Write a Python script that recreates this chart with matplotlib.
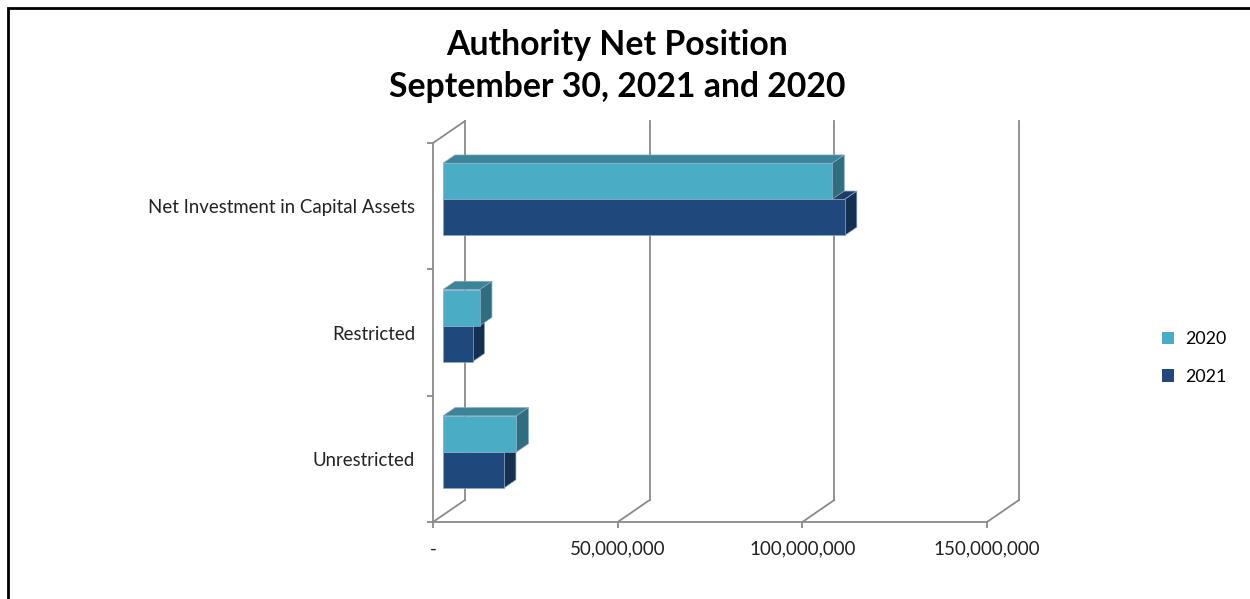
import matplotlib.pyplot as plt
from matplotlib.patches import Polygon, Rectangle, Patch
from matplotlib.ticker import FuncFormatter

plt.rcParams['font.family'] = ['Lato', 'DejaVu Sans']

# data
categories = ['Net Investment in Capital Assets', 'Restricted', 'Unrestricted']
years = ['2020', '2021']
values_2020 = [105400000, 10000000, 19900000]
values_2021 = [108800000, 8000000, 16500000]
x_ticks = [0, 50000000, 100000000, 150000000]

# colours: front, top, side
col_2020 = ('#4BACC6', '#3A8598', '#2F6E7E')
col_2021 = ('#1F497D', '#1A3D69', '#152F51')
grid_col = '#8A8A8A'

W, H = 1250, 599
fig = plt.figure(figsize=(W / 100, H / 100), dpi=100)

# front plane of the fake-3d box, in pixels
px_left, px_right, px_top, px_bot = 433, 987, 143, 522
ax = fig.add_axes([px_left / W, 1 - px_bot / H, (px_right - px_left) / W, (px_bot - px_top) / H])
xmax = x_ticks[-1]
ax.set_xlim(0, xmax)
ax.set_ylim(0, 3)

# depth vector (pixels -> data units)
DX = 32 / (px_right - px_left) * xmax
DY = 22 / (px_bot - px_top) * 3
f0, f1 = 10 / 32, 22 / 32          # bar front / back depth
bar_h = 36 / 126

# back wall and floor lines
for xv in x_ticks:
    ax.plot([xv + DX, xv + DX], [DY, 3 + DY], color=grid_col, lw=1.3, clip_on=False, zorder=1)
    ax.plot([xv, xv + DX], [0, DY], color=grid_col, lw=1.3, clip_on=False, zorder=1)
ax.plot([0, DX], [3, 3 + DY], color=grid_col, lw=1.3, clip_on=False, zorder=1)


def bar3d(v, y0, cols):
    fx, fy = f0 * DX, f0 * DY
    bx, by = f1 * DX, f1 * DY
    y1 = y0 + bar_h
    front = [(fx, y0 + fy), (v + fx, y0 + fy), (v + fx, y1 + fy), (fx, y1 + fy)]
    top = [(fx, y1 + fy), (v + fx, y1 + fy), (v + bx, y1 + by), (bx, y1 + by)]
    side = [(v + fx, y0 + fy), (v + bx, y0 + by), (v + bx, y1 + by), (v + fx, y1 + fy)]
    for pts, c in zip([top, side, front], [cols[1], cols[2], cols[0]]):
        ax.add_patch(Polygon(pts, closed=True, facecolor=c, edgecolor='#8FA9C2',
                             lw=0.5, clip_on=False, zorder=3))


centers = [2.5, 1.5, 0.5]
for c, v20, v21 in zip(centers, values_2020, values_2021):
    bar3d(v21, c - bar_h, col_2021)
    bar3d(v20, c, col_2020)

# axes styling
for s in ['top', 'right']:
    ax.spines[s].set_visible(False)
for s in ['left', 'bottom']:
    ax.spines[s].set_color(grid_col)
    ax.spines[s].set_linewidth(1.3)
ax.set_facecolor('none')
ax.set_xticks(x_ticks)
ax.xaxis.set_major_formatter(FuncFormatter(lambda v, p: '-' if v == 0 else f'{v:,.0f}'))
ax.tick_params(axis='x', direction='out', length=4, width=1.3, color=grid_col,
               pad=9.5, labelsize=13.5, labelcolor='#222222')
ax.set_yticks([0, 1, 2, 3])
ax.set_yticklabels([])
ax.set_yticks(centers, minor=True)
ax.set_yticklabels(categories, minor=True)
ax.tick_params(axis='y', which='major', direction='out', length=4, width=1.3, color=grid_col)
ax.tick_params(axis='y', which='minor', length=0, pad=13, labelsize=13.4, labelcolor='#222222')

# title
fig.text(617 / W, 1 - 45 / H, 'Authority Net Position', ha='center', va='center',
         fontsize=24.3, fontweight='bold')
fig.text(617 / W, 1 - 87 / H, 'September 30, 2021 and 2020', ha='center', va='center',
         fontsize=24.3, fontweight='bold')

# legend
handles = [Patch(facecolor=col_2020[0]), Patch(facecolor=col_2021[0])]
fig.legend(handles, years, loc='center left', bbox_to_anchor=(1146 / W, 1 - 358 / H),
           frameon=False, fontsize=12.8, handlelength=0.7, handleheight=0.7,
           handletextpad=0.6, labelspacing=1.2)

# outer frame (top and left visible)
fig.add_artist(Rectangle((8 / W, -0.1), 1.2, 1 - 8 / H + 0.1, transform=fig.transFigure,
                         fill=False, edgecolor='black', lw=2))

fig.savefig('out.png', dpi=100)
